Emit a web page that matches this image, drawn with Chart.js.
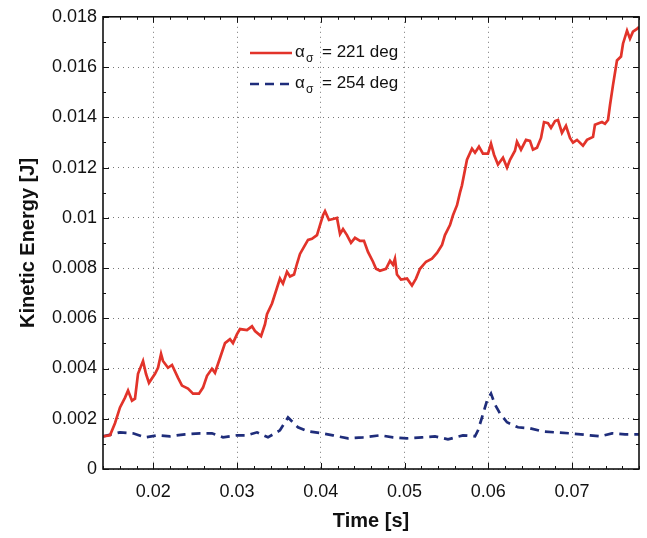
<!DOCTYPE html>
<html>
<head>
<meta charset="utf-8">
<script src="https://cdn.jsdelivr.net/npm/chart.js@4.4.0/dist/chart.umd.min.js"></script>
<style>
  html, body { margin: 0; padding: 0; background: #fff; }
</style>
</head>
<body>
<canvas id="c" width="647" height="538"></canvas>
<script>
// Kinetic energy vs time, two sail angles.
const redTime = [0.0140, 0.01484, 0.01543, 0.01603, 0.01663, 0.01699, 0.01746, 0.01782, 0.01818, 0.01878,
  0.01913, 0.01949, 0.02021, 0.02057, 0.02093, 0.02116, 0.02176, 0.02224, 0.02296, 0.02343,
  0.02415, 0.02475, 0.02546, 0.02594, 0.02642, 0.02701, 0.02737, 0.02797, 0.02857, 0.02916,
  0.02952, 0.03000, 0.03036, 0.03119, 0.03179, 0.03215, 0.03287, 0.03334, 0.03358, 0.03418,
  0.03513, 0.03549, 0.03597, 0.03633, 0.03681, 0.03716, 0.03752, 0.03800, 0.03848, 0.03895,
  0.03955, 0.03991, 0.04027, 0.04051, 0.04098, 0.04146, 0.04194, 0.04230, 0.04266, 0.04313,
  0.04361, 0.04409, 0.04469, 0.04516, 0.04564, 0.04624, 0.04660, 0.04707, 0.04779, 0.04827,
  0.04863, 0.04886, 0.04910, 0.04958, 0.05030, 0.05089, 0.05137, 0.05185, 0.05257, 0.05328,
  0.05388, 0.05448, 0.05483, 0.05543, 0.05579, 0.05627, 0.05663, 0.05686, 0.05746, 0.05806,
  0.05842, 0.05889, 0.05937, 0.05997, 0.06033, 0.06069, 0.06116, 0.06176, 0.06224, 0.06260,
  0.06319, 0.06343, 0.06391, 0.06451, 0.06498, 0.06534, 0.06582, 0.06630, 0.06666, 0.06713,
  0.06749, 0.06797, 0.06833, 0.06880, 0.06928, 0.06976, 0.07012, 0.07060, 0.07131, 0.07179,
  0.07251, 0.07274, 0.07358, 0.07394, 0.07430, 0.07454, 0.07489, 0.07537, 0.07585, 0.07609,
  0.07657, 0.07692, 0.07728, 0.07776, 0.07800];
const redEnergy = [0.00130, 0.00134, 0.00182, 0.00245, 0.00284, 0.00312, 0.00272, 0.00280, 0.00379, 0.00430,
  0.00379, 0.00343, 0.00379, 0.00403, 0.00458, 0.00430, 0.00403, 0.00414, 0.00363, 0.00332,
  0.00320, 0.00300, 0.00300, 0.00324, 0.00371, 0.00399, 0.00383, 0.00442, 0.00501, 0.00517,
  0.00501, 0.00537, 0.00557, 0.00553, 0.00568, 0.00549, 0.00529, 0.00576, 0.00616, 0.00659,
  0.00758, 0.00738, 0.00785, 0.00766, 0.00774, 0.00817, 0.00856, 0.00884, 0.00912, 0.00916,
  0.00931, 0.00971, 0.01010, 0.01026, 0.00991, 0.00995, 0.00999, 0.00935, 0.00955, 0.00931,
  0.00900, 0.00920, 0.00908, 0.00908, 0.00864, 0.00825, 0.00797, 0.00789, 0.00797, 0.00829,
  0.00813, 0.00837, 0.00774, 0.00754, 0.00758, 0.00730, 0.00758, 0.00797, 0.00825, 0.00837,
  0.00860, 0.00892, 0.00931, 0.00971, 0.01010, 0.01050, 0.01101, 0.01129, 0.01231, 0.01275,
  0.01259, 0.01283, 0.01255, 0.01255, 0.01295, 0.01251, 0.01212, 0.01239, 0.01200, 0.01231,
  0.01267, 0.01303, 0.01271, 0.01310, 0.01306, 0.01271, 0.01279, 0.01318, 0.01381, 0.01377,
  0.01358, 0.01385, 0.01389, 0.01338, 0.01366, 0.01318, 0.01299, 0.01310, 0.01287, 0.01310,
  0.01322, 0.01370, 0.01381, 0.01374, 0.01389, 0.01449, 0.01527, 0.01626, 0.01642, 0.01693,
  0.01745, 0.01713, 0.01741, 0.01752, 0.01760];

const blueTime = [0.0140, 0.01603, 0.01758, 0.01901, 0.02057, 0.02200, 0.02379, 0.02558, 0.02701, 0.02833,
  0.03000, 0.03119, 0.03239, 0.03370, 0.03513, 0.03609, 0.03728, 0.03848, 0.04015, 0.04146,
  0.04325, 0.04504, 0.04707, 0.04863, 0.05030, 0.05209, 0.05364, 0.05519, 0.05698, 0.05842,
  0.05878, 0.05925, 0.05985, 0.06033, 0.06080, 0.06140, 0.06224, 0.06355, 0.06498, 0.06642,
  0.06797, 0.06976, 0.07215, 0.07334, 0.07478, 0.07633, 0.07800];
const blueEnergy = [0.00130, 0.00146, 0.00142, 0.00126, 0.00134, 0.00130, 0.00138, 0.00142, 0.00142, 0.00126,
  0.00134, 0.00134, 0.00146, 0.00126, 0.00154, 0.00205, 0.00166, 0.00150, 0.00142, 0.00134,
  0.00122, 0.00126, 0.00134, 0.00126, 0.00122, 0.00126, 0.00130, 0.00118, 0.00134, 0.00130,
  0.00154, 0.00205, 0.00272, 0.00300, 0.00257, 0.00221, 0.00186, 0.00166, 0.00162, 0.00150,
  0.00146, 0.00142, 0.00134, 0.00130, 0.00142, 0.00138, 0.00138];

const seriesNames = ['= 221 deg', '= 254 deg'];
const seriesColors = ['#e2332a', '#1f2d7b'];

const xTicks = [0.02, 0.03, 0.04, 0.05, 0.06, 0.07];
const xMinor = [0.014, 0.016, 0.018, 0.02, 0.022, 0.024, 0.026, 0.028, 0.03, 0.032, 0.034, 0.036, 0.038,
  0.04, 0.042, 0.044, 0.046, 0.048, 0.05, 0.052, 0.054, 0.056, 0.058, 0.06, 0.062, 0.064, 0.066, 0.068,
  0.07, 0.072, 0.074, 0.076, 0.078];
const yTicks = [0, 0.002, 0.004, 0.006, 0.008, 0.01, 0.012, 0.014, 0.016, 0.018];
const yLabels = ['0', '0.002', '0.004', '0.006', '0.008', '0.01', '0.012', '0.014', '0.016', '0.018'];
const yMinor = [0.001, 0.003, 0.005, 0.007, 0.009, 0.011, 0.013, 0.015, 0.017];

const FONT = 'Arial, "Liberation Sans", sans-serif';

function pairs(xs, ys) {
  return xs.map((x, i) => ({ x, y: ys[i] }));
}

// MATLAB-style box with inward ticks on all four sides.
const frame = {
  id: 'frame',
  afterDatasetsDraw(chart) {
    const { ctx, chartArea: a, scales: { x, y } } = chart;
    ctx.save();
    ctx.strokeStyle = '#111';
    ctx.lineWidth = 1;
    ctx.beginPath();
    xMinor.forEach((v) => {
      const p = Math.round(x.getPixelForValue(v)) + 0.5;
      const len = xTicks.some((t) => Math.abs(t - v) < 1e-9) ? 6 : 3;
      ctx.moveTo(p, a.bottom); ctx.lineTo(p, a.bottom - len);
      ctx.moveTo(p, a.top); ctx.lineTo(p, a.top + len);
    });
    yTicks.concat(yMinor).forEach((v) => {
      const p = Math.round(y.getPixelForValue(v)) + 0.5;
      const len = yTicks.includes(v) ? 6 : 3;
      ctx.moveTo(a.left, p); ctx.lineTo(a.left + len, p);
      ctx.moveTo(a.right, p); ctx.lineTo(a.right - len, p);
    });
    ctx.stroke();
    ctx.lineWidth = 1.6;
    ctx.strokeRect(a.left, a.top, a.right - a.left, a.bottom - a.top);
    ctx.restore();
  },
};

// Legend with subscripted alpha_sigma labels.
const sigmaLegend = {
  id: 'sigmaLegend',
  afterDraw(chart) {
    const { ctx } = chart;
    ctx.save();
    seriesNames.forEach((name, i) => {
      const ly = 53 + i * 31;
      ctx.strokeStyle = seriesColors[i];
      ctx.lineWidth = 2.5;
      ctx.setLineDash(i === 1 ? [9, 6] : []);
      ctx.beginPath();
      ctx.moveTo(250, ly);
      ctx.lineTo(292, ly);
      ctx.stroke();
      ctx.setLineDash([]);
      ctx.fillStyle = '#111';
      ctx.textBaseline = 'alphabetic';
      ctx.font = '17px ' + FONT;
      ctx.fillText('α', 295, ly + 4);
      ctx.font = '12px ' + FONT;
      ctx.fillText('σ', 306, ly + 9);
      ctx.font = '17px ' + FONT;
      ctx.fillText(name, 322, ly + 4);
    });
    ctx.restore();
  },
};

new Chart(document.getElementById('c'), {
  type: 'line',
  data: {
    datasets: [
      {
        label: seriesNames[0],
        data: pairs(redTime, redEnergy),
        borderColor: seriesColors[0],
        borderWidth: 2.7,
        pointRadius: 0,
        tension: 0,
      },
      {
        label: seriesNames[1],
        data: pairs(blueTime, blueEnergy),
        borderColor: seriesColors[1],
        borderWidth: 2.7,
        borderDash: [9, 6],
        pointRadius: 0,
        tension: 0,
      },
    ],
  },
  options: {
    responsive: false,
    animation: false,
    layout: { padding: { top: 13, right: 8, left: 0, bottom: 0 } },
    plugins: { legend: { display: false }, tooltip: { enabled: false } },
    scales: {
      x: {
        type: 'linear',
        min: 0.014,
        max: 0.078,
        afterBuildTicks: (s) => { s.ticks = xTicks.map((v) => ({ value: v })); },
        afterFit: (s) => { s.height = 69; },
        grid: { color: '#777', lineWidth: 1, drawTicks: false },
        border: { display: false, dash: [1, 4] },
        ticks: {
          color: '#111',
          padding: 12,
          font: { size: 18, family: FONT },
          maxRotation: 0,
          callback: (v) => String(Math.round(v * 100) / 100),
        },
        title: {
          display: true,
          text: 'Time [s]',
          color: '#111',
          font: { size: 20, weight: 'bold', family: FONT },
          padding: { top: 5, bottom: 5 },
        },
      },
      y: {
        type: 'linear',
        min: 0,
        max: 0.018,
        afterBuildTicks: (s) => { s.ticks = yTicks.map((v) => ({ value: v })); },
        afterFit: (s) => { s.width = 103; },
        grid: { color: '#777', lineWidth: 1, drawTicks: false },
        border: { display: false, dash: [1, 4] },
        ticks: {
          color: '#111',
          padding: 6,
          font: { size: 18, family: FONT },
          callback: (v) => yLabels[yTicks.findIndex((t) => Math.abs(t - v) < 1e-9)],
        },
        title: {
          display: true,
          text: 'Kinetic Energy [J]',
          color: '#111',
          font: { size: 20, weight: 'bold', family: FONT },
          padding: { top: 16, bottom: 4 },
        },
      },
    },
  },
  plugins: [frame, sigmaLegend],
});
</script>
</body>
</html>
